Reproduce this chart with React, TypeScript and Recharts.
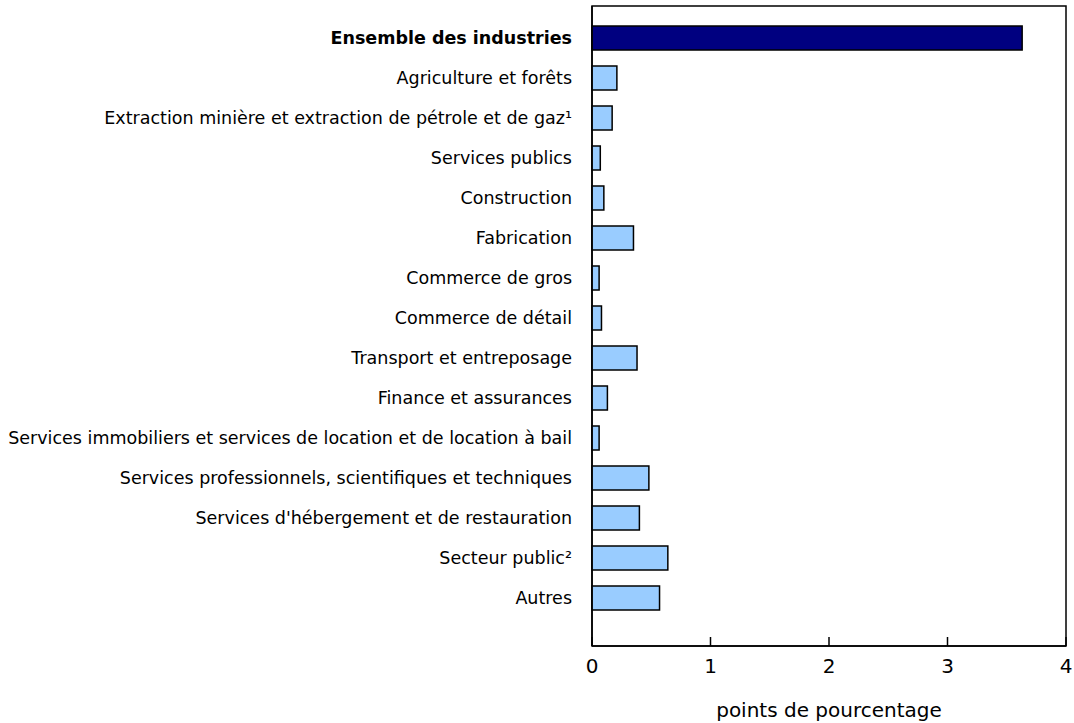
import { BarChart, Bar, XAxis, YAxis, Cell, Customized } from 'recharts';

const industries = [
  'Ensemble des industries',
  'Agriculture et forêts',
  'Extraction minière et extraction de pétrole et de gaz¹',
  'Services publics',
  'Construction',
  'Fabrication',
  'Commerce de gros',
  'Commerce de détail',
  'Transport et entreposage',
  'Finance et assurances',
  'Services immobiliers et services de location et de location à bail',
  'Services professionnels, scientifiques et techniques',
  "Services d'hébergement et de restauration",
  'Secteur public²',
  'Autres',
];

const contributions = [3.63, 0.21, 0.17, 0.07, 0.1, 0.35, 0.06, 0.08, 0.38, 0.13, 0.06, 0.48, 0.4, 0.64, 0.57];

const xTicks = [0, 1, 2, 3, 4];

const data = industries.map((name, i) => ({ name, value: contributions[i] }));

const FONT = 'DejaVu Sans, Verdana, sans-serif';

const W = 1074;
const H = 723;
const margin = { top: 6, right: 8, bottom: 0, left: 0 };
const yAxisWidth = 592;
const xAxisHeight = 77;

function IndustryTick({ x, y, payload }: any) {
  const total = payload.value === industries[0];
  return (
    <text
      x={x}
      y={y}
      dy={6}
      textAnchor="end"
      fontFamily={FONT}
      fontSize={17.5}
      fontWeight={total ? 'bold' : 'normal'}
      fill="#000"
    >
      {payload.value}
    </text>
  );
}

function ValueTick({ x, y, payload }: any) {
  return (
    <g>
      <line x1={x} x2={x} y1={y - 20} y2={y - 29} stroke="#000" strokeWidth={1.5} />
      <text x={x} y={y} dy={7} textAnchor="middle" fontFamily={FONT} fontSize={20} fill="#000">
        {payload.value}
      </text>
    </g>
  );
}

// box around the plot area (top and right edges)
function PlotFrame() {
  const x = margin.left + yAxisWidth;
  const y = margin.top;
  const w = W - margin.right - x;
  const h = H - margin.bottom - xAxisHeight - y;
  return <rect x={x} y={y} width={w} height={h} fill="none" stroke="#000" strokeWidth={1.5} />;
}

export default function App() {
  return (
    <div style={{ position: 'absolute', left: 0, top: 0 }}>
      <BarChart width={W} height={H} data={data} layout="vertical" margin={margin}>
        <Customized component={PlotFrame} />
        <XAxis
          type="number"
          dataKey="value"
          domain={[0, 4]}
          ticks={xTicks}
          interval={0}
          tickLine={false}
          tickSize={0}
          tickMargin={20}
          tick={<ValueTick />}
          axisLine={{ stroke: '#000', strokeWidth: 1.5 }}
          height={xAxisHeight}
          label={{
            value: 'points de pourcentage',
            position: 'insideBottom',
            offset: 6,
            fontFamily: FONT,
            fontSize: 20,
            fill: '#000',
          }}
        />
        <YAxis
          type="category"
          dataKey="name"
          width={yAxisWidth}
          interval={0}
          tickLine={false}
          tickSize={0}
          tickMargin={20}
          tick={<IndustryTick />}
          padding={{ top: 12, bottom: 28 }}
          axisLine={{ stroke: '#000', strokeWidth: 1.5 }}
        />
        <Bar dataKey="value" barSize={24} stroke="#000" strokeWidth={1.5} isAnimationActive={false}>
          {data.map((d, i) => (
            <Cell key={d.name} fill={i === 0 ? '#000080' : '#99CCFF'} />
          ))}
        </Bar>
      </BarChart>
    </div>
  );
}
